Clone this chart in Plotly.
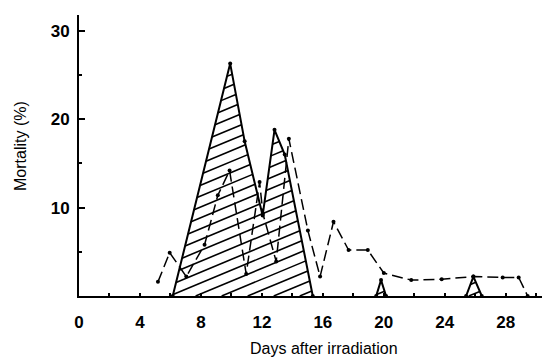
import plotly.graph_objects as go

# ---- data ----
days_solid = [6.15, 9.92, 10.87, 12.05, 12.83, 13.5, 15.34]
mort_solid = [0, 26.3, 17.5, 9.1, 18.8, 16.0, 0]

days_peak20 = [19.5, 19.82, 20.15]
mort_peak20 = [0, 1.8, 0]

days_peak26 = [25.4, 25.88, 26.43]
mort_peak26 = [0, 2.2, 0]

days_dash = [5.18, 5.95, 7.04, 8.24, 9.11, 9.88, 10.97, 11.85, 12.07, 12.94, 13.77,
             15.02, 15.82, 16.7, 17.69, 18.95, 20.0, 21.8, 23.8, 25.88, 27.8, 28.85, 29.44]
mort_dash = [1.6, 4.9, 2.2, 5.8, 11.4, 14.2, 2.5, 12.9, 9.3, 3.9, 17.8,
             7.4, 2.2, 8.4, 5.2, 5.2, 2.6, 1.8, 1.9, 2.2, 2.1, 2.1, 0]

x_tick_vals = list(range(0, 32, 2))
x_tick_text = [str(v) if v % 4 == 0 and v <= 28 else "" for v in x_tick_vals]
y_tick_vals = [10, 20, 30]
y_tick_text = ["10", "20", "30"]

FONT = "Liberation Sans, Arial, sans-serif"


def hatch(xs, ys, slope, step):
    """Hatch segments inside polygon (xs, ys) for lines y = slope*x + c."""
    n = len(xs)
    cs = [y - slope * x for x, y in zip(xs, ys)]
    cmin, cmax = min(cs), max(cs)
    hx, hy = [], []
    c = cmin + step * 0.5
    while c < cmax:
        pts = []
        for i in range(n):
            x1, y1 = xs[i], ys[i]
            x2, y2 = xs[(i + 1) % n], ys[(i + 1) % n]
            f1 = y1 - slope * x1 - c
            f2 = y2 - slope * x2 - c
            if f1 * f2 < 0:
                t = f1 / (f1 - f2)
                pts.append(x1 + t * (x2 - x1))
        pts.sort()
        for j in range(0, len(pts) - 1, 2):
            for px in (pts[j], pts[j + 1]):
                hx.append(px)
                hy.append(slope * px + c)
            hx.append(None)
            hy.append(None)
        c += step
    return hx, hy


SLOPE = 0.72
STEP = 1.23

fig = go.Figure()

for dx, dy in [(days_solid, mort_solid), (days_peak20, mort_peak20), (days_peak26, mort_peak26)]:
    hx, hy = hatch(dx, dy, SLOPE, STEP)
    fig.add_trace(go.Scatter(x=hx, y=hy, mode="lines",
                             line=dict(color="black", width=1.6),
                             hoverinfo="skip", showlegend=False))

fig.add_trace(go.Scatter(x=days_dash, y=mort_dash, mode="lines+markers",
                         line=dict(color="black", width=1.5, dash="11px,5px"),
                         marker=dict(color="black", size=4),
                         showlegend=False))

for dx, dy in [(days_solid, mort_solid), (days_peak20, mort_peak20), (days_peak26, mort_peak26)]:
    fig.add_trace(go.Scatter(x=dx, y=dy, mode="lines+markers",
                             line=dict(color="black", width=2),
                             marker=dict(color="black", size=4),
                             showlegend=False))

fig.update_layout(
    width=550, height=359,
    margin=dict(l=71, r=2, t=7, b=71),
    paper_bgcolor="white", plot_bgcolor="white",
    showlegend=False,
    xaxis=dict(range=[0, 31.3], showline=True, linecolor="black", linewidth=2,
               ticks="inside", ticklen=3, tickwidth=1.5, tickcolor="black",
               tickvals=x_tick_vals, ticktext=x_tick_text,
               tickfont=dict(family=FONT, size=17, color="black", weight="bold"),
               ticklabelstandoff=10,
               showgrid=False, zeroline=False, fixedrange=True),
    yaxis=dict(range=[0, 31.8], showline=True, linecolor="black", linewidth=2,
               ticks="inside", ticklen=6, tickwidth=2, tickcolor="black",
               tickvals=y_tick_vals, ticktext=y_tick_text,
               tickfont=dict(family=FONT, size=17, color="black", weight="bold"),
               ticklabelstandoff=4,
               minor=dict(tickvals=[5, 15, 25], ticks="inside", ticklen=3,
                          tickcolor="black", tickwidth=1.5),
               showgrid=False, zeroline=False, fixedrange=True),
    annotations=[
        dict(text="Mortality (%)", xref="paper", yref="paper",
             x=(12 - 71) / 477, y=(288 - 138) / 281, xanchor="center", yanchor="middle",
             textangle=-90, showarrow=False,
             font=dict(family=FONT, size=16, color="black")),
        dict(text="Days after irradiation", xref="paper", yref="paper",
             x=(316 - 71) / 477, y=(288 - 340) / 281, xanchor="center", yanchor="middle",
             showarrow=False,
             font=dict(family=FONT, size=16, color="black")),
    ],
)

fig.write_html("out.html")
